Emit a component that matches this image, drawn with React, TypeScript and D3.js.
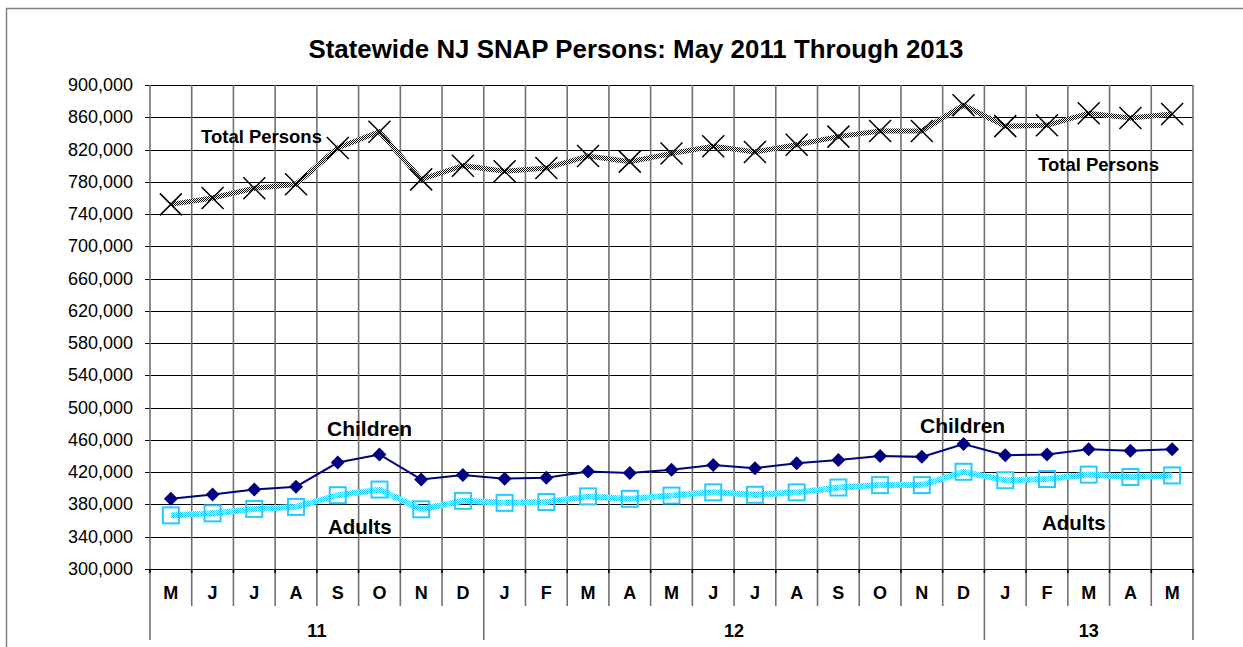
import { useEffect, useRef } from 'react';
import * as d3 from 'd3';

const months = ['M', 'J', 'J', 'A', 'S', 'O', 'N', 'D', 'J', 'F', 'M', 'A', 'M', 'J', 'J', 'A', 'S', 'O', 'N', 'D', 'J', 'F', 'M', 'A', 'M'];
const years = [
  { label: '11', start: 0, end: 8 },
  { label: '12', start: 8, end: 20 },
  { label: '13', start: 20, end: 25 },
];
const totalPersons = [752000, 760000, 772000, 777000, 822000, 842000, 783000, 800000, 793000, 797000, 812000, 805000, 815000, 824000, 817000, 826000, 836000, 843000, 843000, 875000, 849000, 850000, 865000, 859000, 864000];
const children = [387000, 392500, 398500, 402000, 432000, 442000, 411000, 416500, 412000, 413000, 421000, 419000, 423000, 429000, 425000, 431000, 435000, 440000, 439000, 455000, 441000, 442000, 448500, 446500, 448500];
const adults = [366500, 369000, 374500, 377000, 391500, 398500, 374000, 384500, 382000, 383000, 390000, 387000, 391000, 395000, 392000, 395000, 401000, 404000, 404000, 420500, 410000, 411500, 417000, 414000, 416000];
const yTicks = d3.range(300000, 900001, 40000);

const FONT = 'Arial, "Liberation Sans", sans-serif';

export default function App() {
  const svgRef = useRef<SVGSVGElement>(null);

  useEffect(() => {
    if (!svgRef.current) return;
    document.body.style.margin = '0';
    const svg = d3.select(svgRef.current);
    svg.selectAll('*').remove();

    const left = 150, right = 1193, top = 85, bottom = 569;

    const x = d3.scaleBand<number>().domain(d3.range(months.length)).range([left, right]);
    const y = d3.scaleLinear().domain([300000, 900000]).range([bottom, top]);
    const cx = (i: number) => (x(i) || 0) + x.bandwidth() / 2;

    // Patterns for the checkered lines
    const defs = svg.append('defs');
    const mkChecker = (id: string, color: string) => {
      const p = defs.append('pattern').attr('id', id).attr('width', 2).attr('height', 2).attr('patternUnits', 'userSpaceOnUse');
      p.append('rect').attr('width', 2).attr('height', 2).attr('fill', '#fff');
      p.append('rect').attr('width', 1).attr('height', 1).attr('fill', color);
      p.append('rect').attr('x', 1).attr('y', 1).attr('width', 1).attr('height', 1).attr('fill', color);
    };
    mkChecker('chkBlack', '#000');
    mkChecker('chkCyan', '#22ccff');

    // Outer border
    svg.append('rect')
      .attr('x', 6.5).attr('y', 8.5).attr('width', 1260).attr('height', 700)
      .attr('fill', 'none').attr('stroke', '#808080').attr('stroke-width', 1.5);

    // Title
    svg.append('text')
      .attr('x', 636).attr('y', 58)
      .attr('text-anchor', 'middle')
      .attr('font-family', FONT).attr('font-weight', 'bold').attr('font-size', 25)
      .attr('textLength', 655).attr('lengthAdjust', 'spacingAndGlyphs')
      .text('Statewide NJ SNAP Persons: May 2011 Through 2013');

    // Horizontal grid
    svg.append('g').selectAll('line').data(yTicks).join('line')
      .attr('x1', left - 5).attr('x2', right)
      .attr('y1', d => Math.round(y(d)) + 0.5).attr('y2', d => Math.round(y(d)) + 0.5)
      .attr('stroke', '#000').attr('stroke-width', 1);

    // Vertical grid
    const bounds = d3.range(months.length + 1);
    svg.append('g').selectAll('line').data(bounds).join('line')
      .attr('x1', i => left + i * x.bandwidth()).attr('x2', i => left + i * x.bandwidth())
      .attr('y1', top).attr('y2', i => (years.some(yr => yr.start === i || yr.end === i) ? 640 : 606))
      .attr('stroke', '#707070').attr('stroke-width', 1.6);

    // Category tick marks
    svg.append('g').selectAll('line').data(bounds).join('line')
      .attr('x1', i => left + i * x.bandwidth()).attr('x2', i => left + i * x.bandwidth())
      .attr('y1', bottom).attr('y2', bottom + 4)
      .attr('stroke', '#000').attr('stroke-width', 1.6);

    // Y labels
    svg.append('g').selectAll('text').data(yTicks).join('text')
      .attr('x', 133).attr('y', d => y(d) + 6)
      .attr('text-anchor', 'end')
      .attr('font-family', FONT).attr('font-size', 18)
      .text(d => d3.format(',')(d));

    // Month labels
    svg.append('g').selectAll('text').data(months).join('text')
      .attr('x', (_, i) => cx(i)).attr('y', 599)
      .attr('text-anchor', 'middle')
      .attr('font-family', FONT).attr('font-weight', 'bold').attr('font-size', 18)
      .text(d => d);

    // Year labels
    svg.append('g').selectAll('text').data(years).join('text')
      .attr('x', d => left + ((d.start + d.end) / 2) * x.bandwidth()).attr('y', 637)
      .attr('text-anchor', 'middle')
      .attr('font-family', FONT).attr('font-weight', 'bold').attr('font-size', 18)
      .text(d => d.label);

    const line = d3.line<number>().x((_, i) => cx(i)).y(d => y(d));

    // Total persons
    svg.append('path').datum(totalPersons).attr('d', line)
      .attr('fill', 'none').attr('stroke', 'url(#chkBlack)').attr('stroke-width', 5);
    svg.append('g').selectAll('path').data(totalPersons).join('path')
      .attr('d', (d, i) => {
        const px = cx(i), py = y(d), s = 11;
        return `M${px - s},${py - s}L${px + s},${py + s}M${px - s},${py + s}L${px + s},${py - s}`;
      })
      .attr('stroke', '#000').attr('stroke-width', 1.5).attr('fill', 'none');

    // Adults
    svg.append('path').datum(adults).attr('d', line)
      .attr('fill', 'none').attr('stroke', 'url(#chkCyan)').attr('stroke-width', 6);
    svg.append('g').selectAll('rect').data(adults).join('rect')
      .attr('x', (_, i) => cx(i) - 8).attr('y', d => y(d) - 8)
      .attr('width', 16).attr('height', 16)
      .attr('fill', 'none').attr('stroke', '#22ccff').attr('stroke-width', 2);

    // Children
    svg.append('path').datum(children).attr('d', line)
      .attr('fill', 'none').attr('stroke', '#000080').attr('stroke-width', 2);
    svg.append('g').selectAll('path').data(children).join('path')
      .attr('d', (d, i) => {
        const px = cx(i), py = y(d), s = 7;
        return `M${px},${py - s}L${px + s},${py}L${px},${py + s}L${px - s},${py}Z`;
      })
      .attr('fill', '#000080');

    // Series annotations
    const notes = [
      { text: 'Total Persons', x: 201, y: 143, size: 18.5 },
      { text: 'Total Persons', x: 1038, y: 171, size: 18.5 },
      { text: 'Children', x: 327, y: 436, size: 21 },
      { text: 'Children', x: 920, y: 433, size: 21 },
      { text: 'Adults', x: 328, y: 534, size: 20.5 },
      { text: 'Adults', x: 1042, y: 530, size: 20.5 },
    ];
    svg.append('g').selectAll('text').data(notes).join('text')
      .attr('x', d => d.x).attr('y', d => d.y)
      .attr('font-family', FONT).attr('font-weight', 'bold').attr('font-size', d => d.size)
      .text(d => d.text);
  }, []);

  return <svg ref={svgRef} width={1243} height={647} style={{ display: 'block', background: '#fff' }} />;
}
